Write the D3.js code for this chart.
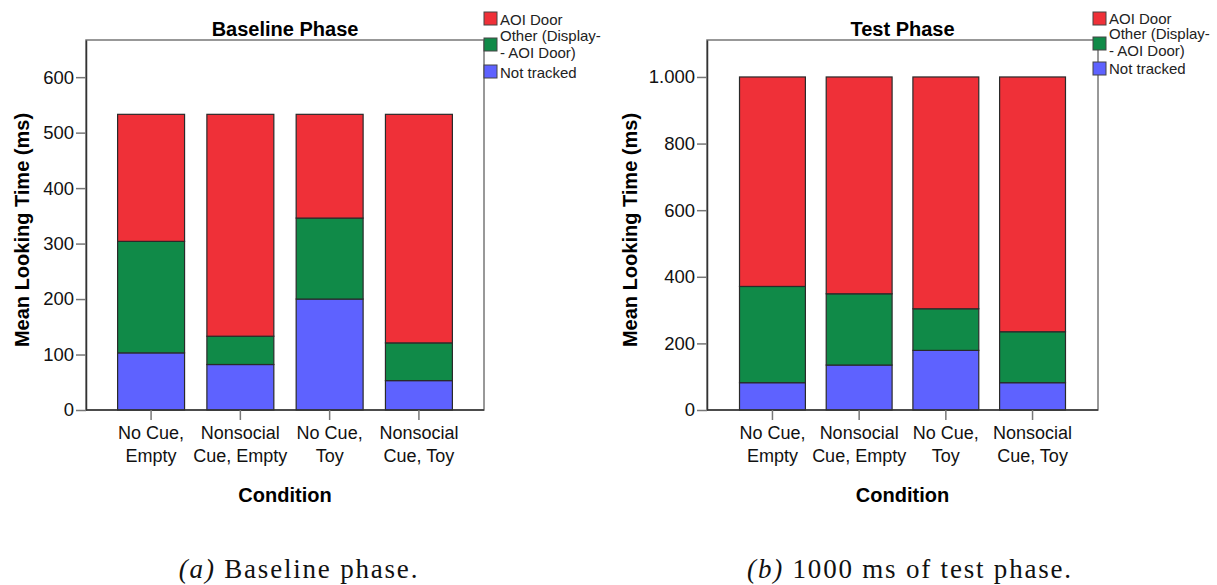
<!DOCTYPE html>
<html><head><meta charset="utf-8">
<script src="https://cdn.jsdelivr.net/npm/d3@7"></script>
<style>body{margin:0;background:#fff}svg{display:block}</style>
</head><body><svg id="c" width="1217" height="585"></svg>
<script>
const categories = [["No Cue,","Empty"],["Nonsocial","Cue, Empty"],["No Cue,","Toy"],["Nonsocial","Cue, Toy"]];
const seriesNames = ["Not tracked","Other (Display-\n- AOI Door)","AOI Door"];
const colors = ["#5e62ff","#108a48","#ef3038"];
// Baseline phase (ms)
const baseNotTracked = [103, 82, 200, 53];
const baseOther = [201, 51, 146, 68];
const baseAOI = [229, 400, 187, 412];
// Test phase (ms)
const testNotTracked = [82, 135, 179, 82];
const testOther = [289, 214, 125, 153];
const testAOI = [629, 651, 696, 765];
const baseTicks = [0,100,200,300,400,500,600];
const testTicks = [0,200,400,600,800,1000];

const FONT = "Liberation Sans, Arial, sans-serif";
const svg = d3.select("#c");
const fmt = v => v >= 1000 ? d3.format(",")(v).replace(",", ".") : String(v);

function panel(o){
  const g = svg.append("g");
  const x = d3.scaleBand().domain(d3.range(4)).range([o.x0,o.x1]).paddingInner(o.pi).paddingOuter(o.po);
  const y = d3.scaleLinear().domain([0,o.ymax]).range([o.y0,o.y1]);
  const rows = d3.range(4).map(i => ({i, a:o.nt[i], b:o.ot[i], c:o.aoi[i]}));
  const stack = d3.stack().keys(["a","b","c"])(rows);
  g.append("rect").attr("x",o.x0).attr("y",o.y1).attr("width",o.x1-o.x0).attr("height",o.y0-o.y1)
    .attr("fill","none").attr("stroke","#777").attr("stroke-width",1.5);
  stack.forEach((s,k)=>{
    g.selectAll(null).data(s).enter().append("rect")
      .attr("x",d=>x(d.data.i)).attr("width",x.bandwidth())
      .attr("y",d=>y(d[1])).attr("height",d=>y(d[0])-y(d[1]))
      .attr("fill",colors[k]).attr("stroke","#2a2a2a").attr("stroke-width",1.2);
  });
  const ya = g.append("g").attr("transform",`translate(${o.x0},0)`)
    .call(d3.axisLeft(y).tickValues(o.ticks).tickSize(10).tickSizeOuter(0).tickPadding(2).tickFormat(fmt));
  ya.select(".domain").attr("stroke","#333").attr("stroke-width",1.5);
  ya.selectAll(".tick line").attr("stroke","#777").attr("stroke-width",1.5);
  ya.selectAll("text").attr("font-family",FONT).attr("font-size",18.5).attr("fill","#111");
  const xa = g.append("g").attr("transform",`translate(0,${o.y0})`)
    .call(d3.axisBottom(x).tickSize(10).tickSizeOuter(0).tickFormat(""));
  xa.select(".domain").attr("stroke","#333").attr("stroke-width",1.5).attr("d",`M${o.x0},0H${o.x1}`);
  xa.selectAll(".tick line").attr("stroke","#777").attr("stroke-width",1.5);
  categories.forEach((c,i)=>{
    const cx = x(i)+x.bandwidth()/2;
    const t = g.append("text").attr("x",cx).attr("y",o.y0+29)
      .attr("text-anchor","middle").attr("font-family",FONT).attr("font-size",18).attr("fill","#111");
    t.append("tspan").attr("x",cx).text(c[0]);
    t.append("tspan").attr("x",cx).attr("dy",23).text(c[1]);
  });
  g.append("text").attr("x",(o.x0+o.x1)/2).attr("y",502).attr("text-anchor","middle")
    .attr("font-family",FONT).attr("font-weight","bold").attr("font-size",20).text("Condition");
  g.append("text").attr("transform",`translate(${o.ylx},230) rotate(-90)`).attr("text-anchor","middle")
    .attr("font-family",FONT).attr("font-weight","bold").attr("font-size",20).text("Mean Looking Time (ms)");
  g.append("text").attr("x",(o.x0+o.x1)/2).attr("y",36).attr("text-anchor","middle")
    .attr("font-family",FONT).attr("font-weight","bold").attr("font-size",20).text(o.title);
  const leg = [
    {c:colors[2], lines:["AOI Door"], sy:o.sq[0], ty:[o.tb[0]]},
    {c:colors[1], lines:["Other (Display-","- AOI Door)"], sy:o.sq[1], ty:[o.tb[1],o.tb[2]]},
    {c:colors[0], lines:["Not tracked"], sy:o.sq[2], ty:[o.tb[3]]}];
  leg.forEach(l=>{
    g.append("rect").attr("x",o.lx).attr("y",l.sy).attr("width",13).attr("height",13)
      .attr("fill",l.c).attr("stroke","#444").attr("stroke-width",1);
    const t = g.append("text").attr("font-family",FONT).attr("font-size",15).attr("fill","#222");
    l.lines.forEach((s,j)=>{
      t.append("tspan").attr("x",o.lx+16).attr("y",l.ty[j]).text(s);
    });
  });
  const cap = g.append("text").attr("x",o.capx).attr("y",578).attr("text-anchor","middle")
    .attr("font-family","Liberation Serif, DejaVu Serif, serif").attr("font-size",27)
    .attr("letter-spacing",1.8).attr("fill","#111");
  cap.append("tspan").attr("font-style","italic").text(o.capA);
  cap.append("tspan").text(o.capB);
}

panel({x0:86,x1:484,y0:410,y1:40,ymax:667,pi:0.25,po:0.354,nt:baseNotTracked,ot:baseOther,aoi:baseAOI,
  ticks:baseTicks,title:"Baseline Phase",ylx:29,lx:484,sq:[12,38,65],tb:[25,41,58,78],
  capx:299,capA:"(a)",capB:" Baseline phase."});
panel({x0:707,x1:1098,y0:410,y1:40,ymax:1111,pi:0.24,po:0.375,nt:testNotTracked,ot:testOther,aoi:testAOI,
  ticks:testTicks,title:"Test Phase",ylx:637,lx:1093,sq:[12,37,62],tb:[24,39,56,74],
  capx:910,capA:"(b)",capB:" 1000 ms of test phase."});
</script></body></html>
